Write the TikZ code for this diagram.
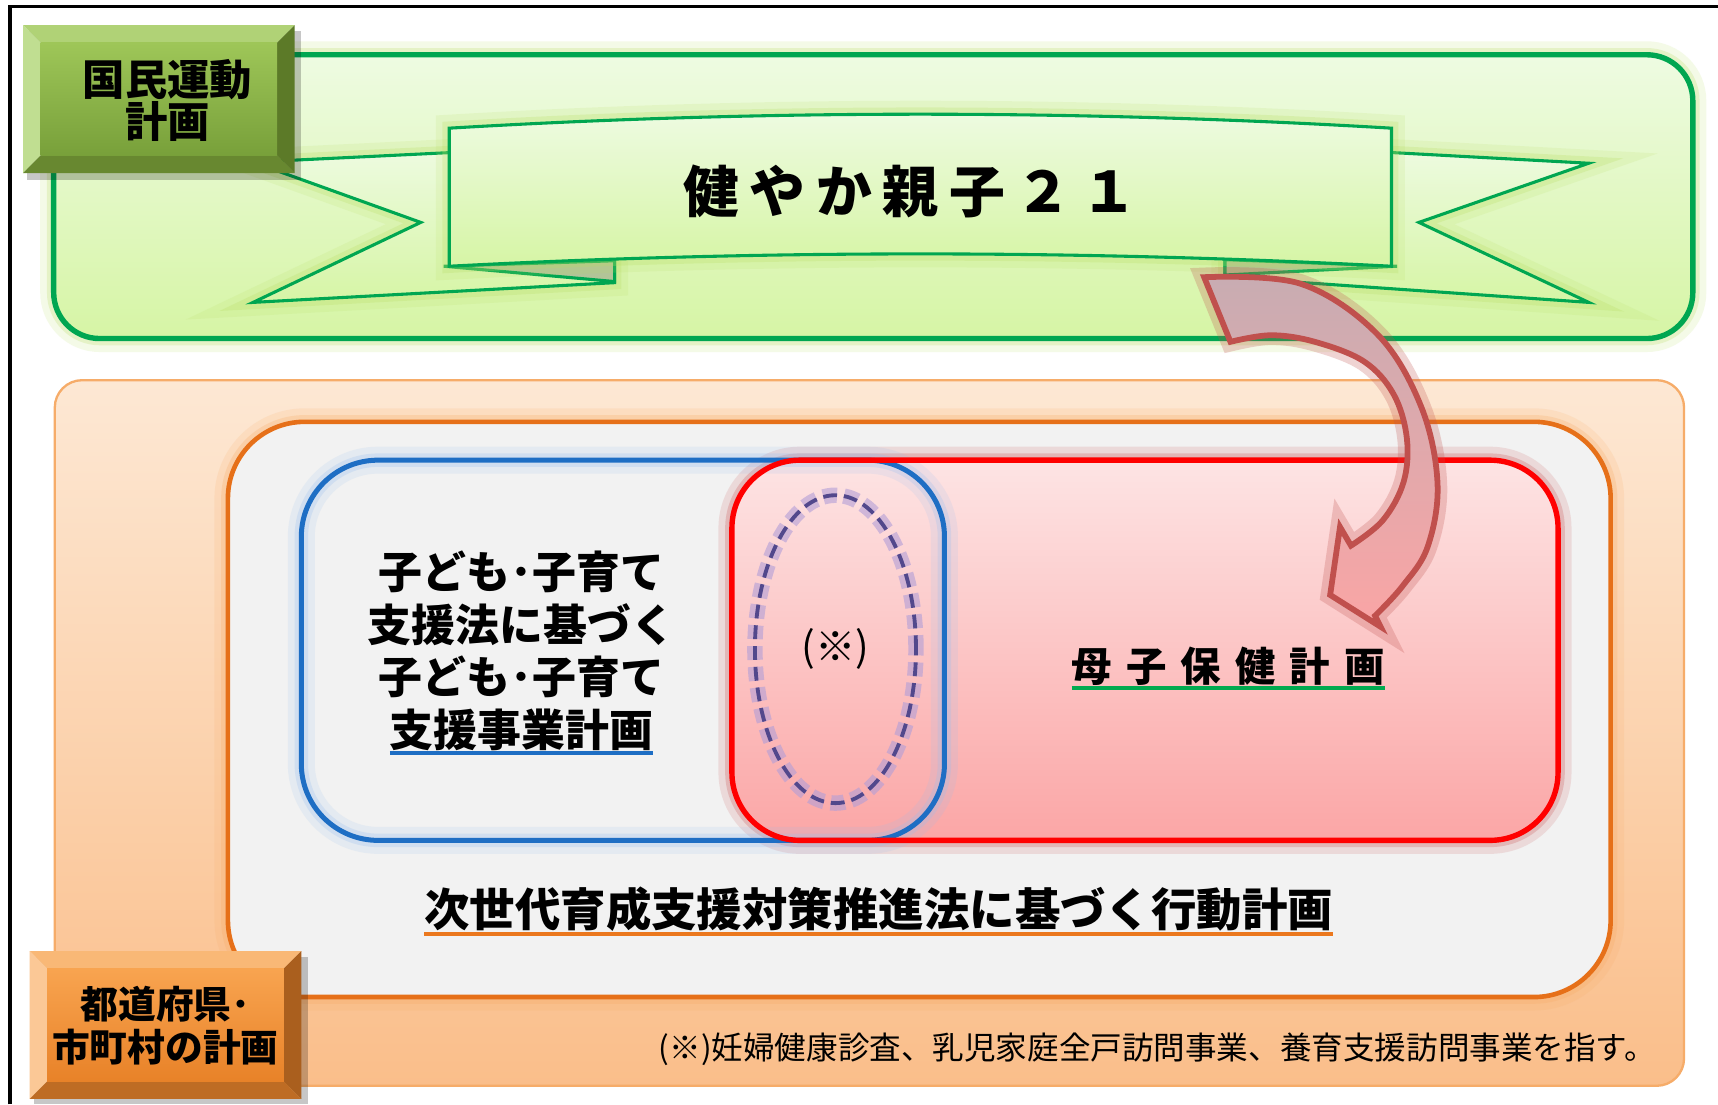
\documentclass[tikz,border=0pt]{standalone}
\usepackage{fontspec}
\setmainfont{Noto Sans CJK JP}
\usetikzlibrary{shapes.geometric}

\definecolor{boxgreen}{RGB}{0,166,81}
\definecolor{palegreen}{RGB}{238,251,226}
\definecolor{limegreen}{RGB}{214,245,165}
\definecolor{glowgreen}{RGB}{185,222,100}
\definecolor{foldgray}{RGB}{178,196,152}
\definecolor{olivetop}{RGB}{158,198,88}
\definecolor{olivebot}{RGB}{120,160,58}
\definecolor{olivelight}{RGB}{176,210,118}
\definecolor{olivepale}{RGB}{192,222,145}
\definecolor{olivedark}{RGB}{92,122,40}
\definecolor{olivedeep}{RGB}{104,136,48}
\definecolor{peachtop}{RGB}{253,232,212}
\definecolor{peachbot}{RGB}{250,190,138}
\definecolor{peachline}{RGB}{246,172,105}
\definecolor{innergray}{RGB}{242,242,242}
\definecolor{orangeline}{RGB}{230,112,25}
\definecolor{orangeglow}{RGB}{248,170,100}
\definecolor{planblue}{RGB}{30,110,196}
\definecolor{blueglow}{RGB}{150,190,240}
\definecolor{planred}{RGB}{255,0,0}
\definecolor{redglow}{RGB}{200,80,80}
\definecolor{pinktop}{RGB}{253,228,228}
\definecolor{pinkbot}{RGB}{251,166,166}
\definecolor{ovalline}{RGB}{82,72,140}
\definecolor{ovalglow}{RGB}{178,158,215}
\definecolor{arrowline}{RGB}{192,80,77}
\definecolor{arrowtop}{RGB}{200,172,178}
\definecolor{arrowbot}{RGB}{250,165,165}
\definecolor{ulgreen}{RGB}{0,170,80}
\definecolor{ulorange}{RGB}{235,120,30}
\definecolor{ambertop}{RGB}{248,164,80}
\definecolor{amberbot}{RGB}{232,130,40}
\definecolor{amberlight}{RGB}{249,184,118}
\definecolor{amberpale}{RGB}{251,200,150}
\definecolor{amberdark}{RGB}{170,95,30}
\definecolor{amberdeep}{RGB}{190,108,36}

\newcommand{\ulin}[2]{\setbox0=\hbox{#2}\rlap{\color{#1}\rule[-0.2em]{\wd0}{1pt}}\box0}
\newcommand{\tgap}{\kern.19em}
\newcommand{\pgap}{\kern.35em}

\tikzset{
  glow/.style={preaction={draw=#1,line width=7pt,draw opacity=0.15},
               preaction={draw=#1,line width=3.5pt,draw opacity=0.25}},
  ribbon/.style={draw=boxgreen,line width=0.8pt,top color=palegreen,bottom color=limegreen},
  labeltext/.style={align=center,inner sep=0pt,font=\fontsize{11}{11}\selectfont\bfseries},
  plantext/.style={align=center,inner sep=0pt,font=\fontsize{11.4}{13.6}\selectfont\bfseries}
}

\begin{document}
\begin{tikzpicture}
  \useasboundingbox (0,0) rectangle (15.68,10.08);
  \fill[white] (0,0) rectangle (15.68,10.08);
  % Frame
  \draw[line width=0.9pt] (0.09,0) -- (0.09,10.02) -- (15.68,10.02);

  % National plan box
  \draw[boxgreen,line width=1.4pt,rounded corners=0.42cm,top color=palegreen,bottom color=limegreen,
        glow=glowgreen] (0.49,6.99) rectangle (15.45,9.58);
  % Ribbon tails
  \draw[ribbon,glow=glowgreen] (2.31,8.60) -- (5.61,8.76) -- (5.61,7.50) -- (2.31,7.32) -- (3.84,8.05) -- cycle;
  \draw[ribbon,glow=glowgreen] (11.18,8.77) -- (14.50,8.59) -- (12.95,8.05) -- (14.50,7.32) -- (11.18,7.55) -- cycle;
  \draw[boxgreen,line width=0.8pt,fill=foldgray] (4.05,7.65) -- (5.61,7.70) -- (5.61,7.51) -- cycle;
  \draw[boxgreen,line width=0.8pt,fill=foldgray] (11.18,7.71) -- (12.75,7.65) -- (11.18,7.57) -- cycle;
  % Ribbon banner
  \draw[ribbon,glow=glowgreen] (4.10,8.91) .. controls (6.97,9.08) and (9.83,9.08) .. (12.70,8.91)
        -- (12.70,7.65) .. controls (9.83,7.80) and (6.97,7.80) .. (4.10,7.65) -- cycle;
  \node[font=\fontsize{14.5}{16}\selectfont\bfseries] (title) at (8.31,8.33)
        {健\tgap や\tgap か\tgap 親\tgap 子\tgap ２\tgap １};

  % Label: national
  \fill[black,opacity=0.22] (0.25,8.44) rectangle (2.75,9.80);
  \fill[olivelight] (0.21,9.85) -- (2.69,9.85) -- (2.53,9.69) -- (0.37,9.69) -- cycle;
  \fill[olivepale] (0.21,9.85) -- (0.37,9.69) -- (0.37,8.66) -- (0.21,8.50) -- cycle;
  \fill[olivedark] (2.69,9.85) -- (2.53,9.69) -- (2.53,8.66) -- (2.69,8.50) -- cycle;
  \fill[olivedeep] (0.21,8.50) -- (0.37,8.66) -- (2.53,8.66) -- (2.69,8.50) -- cycle;
  \shade[top color=olivetop,bottom color=olivebot] (0.37,8.66) rectangle (2.53,9.69);
  \node[labeltext] (kokumin) at (1.53,9.16) {国民運動\\計画};

  % Local plan boxes
  \draw[peachline,line width=0.6pt,rounded corners=0.25cm,top color=peachtop,bottom color=peachbot]
        (0.50,0.17) rectangle (15.37,6.61);
  \draw[orangeline,line width=1.2pt,rounded corners=0.70cm,fill=innergray,glow=orangeglow]
        (2.08,0.98) rectangle (14.70,6.23);
  \fill[top color=pinktop,bottom color=pinkbot,rounded corners=0.62cm,glow=redglow]
        (6.68,2.41) rectangle (14.22,5.88);
  \draw[planblue,line width=1.3pt,rounded corners=0.70cm,glow=blueglow] (2.75,2.41) rectangle (8.62,5.88);
  \draw[planred,line width=1.4pt,rounded corners=0.62cm] (6.68,2.41) rectangle (14.22,5.88);
  \node[ellipse,draw=ovalline,line width=1pt,dash pattern=on 3.6pt off 1.8pt,
        minimum width=1.47cm,minimum height=2.81cm,
        preaction={draw=ovalglow,line width=4pt,draw opacity=0.6},
        font=\fontsize{10.5}{11}\selectfont] (oval) at (7.625,4.155) {(※)};

  \node[plantext] (kodomo) at (4.76,4.12)
        {子ども･子育て\\支援法に基づく\\子ども･子育て\\\ulin{planblue}{支援事業計画}};
  \node[plantext,font=\fontsize{10.5}{12}\selectfont\bfseries] (boshi) at (11.21,3.98)
        {\ulin{ulgreen}{母\pgap 子\pgap 保\pgap 健\pgap 計\pgap 画}};
  \node[plantext,font=\fontsize{11.8}{13}\selectfont\bfseries] (jisedai) at (8.02,1.76)
        {\ulin{ulorange}{次世代育成支援対策推進法に基づく行動計画}};

  % Label: local
  \fill[black,opacity=0.22] (0.31,0.00) rectangle (2.81,1.35);
  \fill[amberlight] (0.27,1.40) -- (2.75,1.40) -- (2.59,1.24) -- (0.43,1.24) -- cycle;
  \fill[amberpale] (0.27,1.40) -- (0.43,1.24) -- (0.43,0.21) -- (0.27,0.05) -- cycle;
  \fill[amberdark] (2.75,1.40) -- (2.59,1.24) -- (2.59,0.21) -- (2.75,0.05) -- cycle;
  \fill[amberdeep] (0.27,0.05) -- (0.43,0.21) -- (2.59,0.21) -- (2.75,0.05) -- cycle;
  \shade[top color=ambertop,bottom color=amberbot] (0.43,0.21) rectangle (2.59,1.24);
  \node[labeltext,font=\fontsize{9.8}{11}\selectfont\bfseries] (chiho) at (1.51,0.72) {都道府県･\\市町村の計画};

  % Curved arrow
  \draw[arrowline,line width=1.5pt,top color=arrowtop,bottom color=arrowbot,
        preaction={draw=arrowline,line width=5pt,draw opacity=0.25}]
        plot[smooth,tension=0.6] coordinates {(10.99,7.55) (11.87,7.49) (12.57,7.03) (12.97,6.37)
              (13.12,5.67) (13.03,5.09) (12.80,4.73) (12.55,4.46)}
        -- (12.60,4.36) -- (12.14,4.65) -- (12.23,5.27) -- (12.33,5.10)
        -- plot[smooth,tension=0.6] coordinates {(12.33,5.10) (12.62,5.33) (12.81,5.68) (12.84,6.08)
              (12.72,6.48) (12.45,6.78) (12.00,6.96) (11.60,7.02) (11.23,6.96)} -- cycle;

  % Footnote
  \node[anchor=east,inner sep=0pt,font=\fontsize{8.2}{9}\selectfont] (chu) at (15.12,0.50)
        {(※)妊婦健康診査、乳児家庭全戸訪問事業、養育支援訪問事業を指す。};
\end{tikzpicture}
\end{document}
